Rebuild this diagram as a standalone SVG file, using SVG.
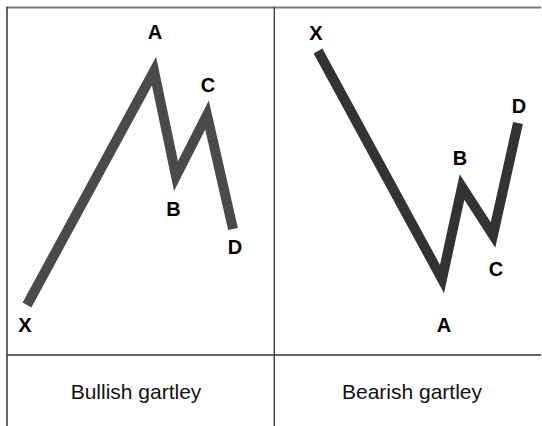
<svg xmlns="http://www.w3.org/2000/svg" width="542" height="426" viewBox="0 0 542 426">
<style>
.lbl{font-family:"Liberation Sans",Arial,sans-serif;font-weight:bold;font-size:20px;fill:#000;text-anchor:middle}
.cap{font-family:"Liberation Sans",Arial,sans-serif;font-size:21px;fill:#111;text-anchor:middle}
.wave{fill:none;stroke-width:10;stroke-linejoin:miter;stroke-miterlimit:20;stroke-linecap:butt}
</style>
<rect width="542" height="426" fill="#fff"/>
<g id="grid">
<line x1="6" y1="7.5" x2="541" y2="7.5" stroke="#7a7a7a" stroke-width="2"/>
<line x1="7" y1="7" x2="7" y2="426" stroke="#333" stroke-width="1.5"/>
<line x1="274.3" y1="7" x2="274.3" y2="426" stroke="#444" stroke-width="1.5"/>
<line x1="7" y1="355" x2="541" y2="355" stroke="#333" stroke-width="1.5"/>
</g>
<g id="bullish">
<polyline class="wave" stroke="#4a4a4a" points="27,305 154,71 176,176 207,115 233,229"/>
<text class="lbl" x="155" y="38.5">A</text>
<text class="lbl" x="25" y="332">X</text>
<text class="lbl" x="173.5" y="215.5">B</text>
<text class="lbl" x="208" y="91.5">C</text>
<text class="lbl" x="235" y="253.5">D</text>
<text class="cap" x="136" y="399">Bullish gartley</text>
</g>
<g id="bearish">
<polyline class="wave" stroke="#333" points="318,51 442,279 462,187 493,235 518,123"/>
<text class="lbl" x="316" y="39.5">X</text>
<text class="lbl" x="519" y="112.5">D</text>
<text class="lbl" x="460" y="164.5">B</text>
<text class="lbl" x="496" y="275.5">C</text>
<text class="lbl" x="444" y="332">A</text>
<text class="cap" x="412" y="399">Bearish gartley</text>
</g>
</svg>
